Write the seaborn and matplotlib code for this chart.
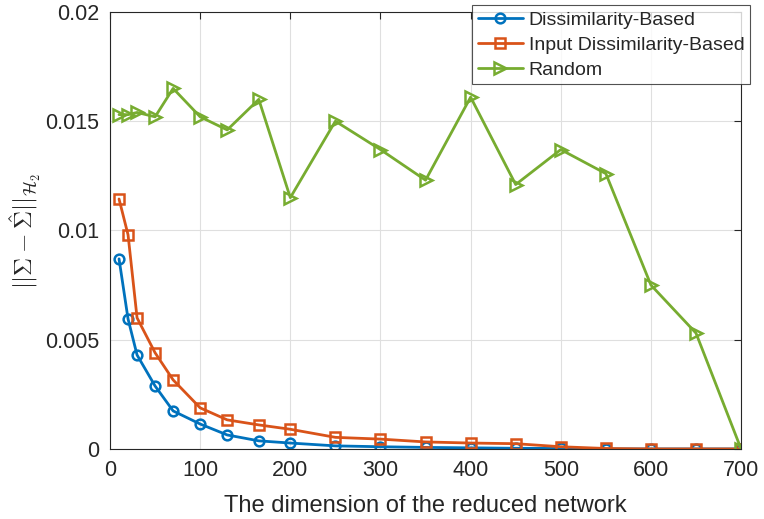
import numpy as np
import pandas as pd
import matplotlib
matplotlib.use("Agg")
import matplotlib.pyplot as plt
import seaborn as sns

dims = [10, 20, 30, 50, 70, 100, 130, 165, 200, 250, 300, 350, 400, 450, 500, 550, 600, 650, 700]
dissimilarity = [0.0087, 0.00595, 0.0043, 0.00288, 0.00174, 0.00114, 0.00064, 0.00037, 0.00027, 0.00014,
                 0.0001, 0.00007, 0.00005, 0.00003, 0.00002, 0.0, 0.0, 0.0, 0.0]
input_dissimilarity = [0.01144, 0.0098, 0.006, 0.0044, 0.00316, 0.00188, 0.00133, 0.0011, 0.0009, 0.00053,
                       0.00045, 0.00032, 0.00027, 0.00024, 0.0001, 0.00002, 0.0, 0.0, 0.0]
random_sel = [0.0153, 0.0153, 0.0154, 0.0152, 0.0165, 0.0152, 0.0146, 0.0160, 0.0115, 0.0150,
              0.0137, 0.0123, 0.0161, 0.0121, 0.0137, 0.0126, 0.0075, 0.0053, 0.0]

series_names = ["Dissimilarity-Based", "Input Dissimilarity-Based", "Random"]
colors = ["#0072BD", "#D95319", "#77AC30"]
markers = ["o", "s", ">"]
marker_sizes = [7, 7, 9]

sns.set_style("white")
plt.rcParams["font.family"] = ["Liberation Sans", "DejaVu Sans"]
plt.rcParams["mathtext.fontset"] = "cm"

fig = plt.figure(figsize=(7.64, 5.19), dpi=100)
ax = fig.add_axes([0.144, 0.135, 0.826, 0.842])

for name, vals, c, m, ms in zip(series_names, [dissimilarity, input_dissimilarity, random_sel],
                                colors, markers, marker_sizes):
    df = pd.DataFrame({"dim": dims, "err": vals})
    sns.lineplot(data=df, x="dim", y="err", ax=ax, color=c, linewidth=2, marker=m,
                 markersize=ms, markerfacecolor="none", markeredgecolor=c, markeredgewidth=1.8,
                 label=name)

ax.set_xlim(0, 700)
ax.set_ylim(0, 0.02)
ax.set_xticks(range(0, 701, 100))
yt = [0, 0.005, 0.01, 0.015, 0.02]
ax.set_yticks(yt)
ax.set_yticklabels(["0", "0.005", "0.01", "0.015", "0.02"])
ax.grid(True, color="#DFDFDF", linewidth=0.8)
for s in ax.spines.values():
    s.set_visible(True)
    s.set_color("#262626")
    s.set_linewidth(0.8)
ax.tick_params(direction="in", top=True, right=True, length=5, width=0.8,
               labelsize=15.5, colors="#262626", pad=8)
ax.set_xlabel("The dimension of the reduced network", fontsize=17, color="#262626", labelpad=10)
ax.set_ylabel(r"$||\Sigma-\hat{\Sigma}||_{\mathcal{H}_2}$", fontsize=18, color="#262626", labelpad=1)

# Legend box sits at the top-right corner, slightly past the right spine
leg = ax.legend(loc="upper right", bbox_to_anchor=(0.982, 0.990), bbox_transform=fig.transFigure,
                fontsize=14, frameon=True, fancybox=False, edgecolor="#262626",
                borderpad=0.3, handlelength=2.3, handletextpad=0.3, labelspacing=0.38,
                borderaxespad=0)
leg.get_frame().set_linewidth(0.8)

fig.savefig("out.png", dpi=100)
